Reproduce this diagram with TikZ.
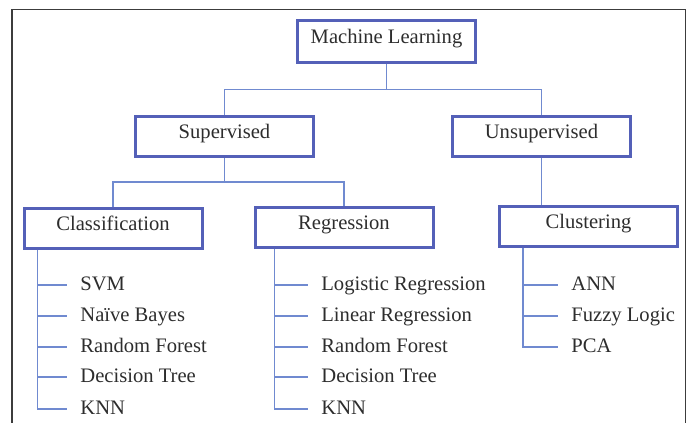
\documentclass[tikz,border=0pt]{standalone}
\usepackage{fontspec}
\setmainfont{Liberation Serif}
\definecolor{boxblue}{RGB}{84,96,184}
\definecolor{linkblue}{RGB}{112,138,208}
\definecolor{inkgray}{RGB}{45,45,45}
\definecolor{framegray}{RGB}{60,60,60}

\begin{document}
\begin{tikzpicture}[x=0.5pt,y=-0.5pt,
  every node/.style={font=\fontsize{10.3}{12}\selectfont,text=inkgray},
  box/.style={draw=boxblue,line width=1.5pt,minimum width=89pt,minimum height=20pt,
    inner sep=0pt,text height=7pt,text depth=5pt},
  item/.style={anchor=west,inner sep=0pt,text height=7pt,text depth=2pt},
  link/.style={draw=linkblue,line width=0.8pt},
  tick/.style={link,shorten >=6.5pt}]
  \useasboundingbox (0,0) rectangle (691,423);
  % outer frame, bottom edge runs off the page
  \draw[framegray,line width=0.9pt] (11.7,423) -- (11.7,9.5) -- (685.5,9.5) -- (685.5,423);

  % boxes
  \node[box,minimum height=21pt] (ml) at (386.5,41) {Machine Learning};
  \node[box] (sup) at (224.5,136.5) {Supervised};
  \node[box] (uns) at (541.5,136) {Unsupervised};
  \node[box] (cls) at (113,228) {Classification};
  \node[box] (reg) at (344,227) {Regression};
  \node[box] (clu) at (588.5,226) {Clustering};

  % tree links
  \draw[link] (ml.south) -- ++(0,26) -| (sup.north);
  \draw[link] (ml.south) ++(0,26) -| (uns.north);
  \draw[link] (sup.south) -- ++(0,24) -| (cls.north);
  \draw[link] (sup.south) ++(0,24) -| (reg.north);
  \draw[link] (uns.south) -- (uns.south |- clu.north);

  % classification methods
  \node[item] (c1) at (80,285) {SVM};
  \node[item] (c2) at (80,316) {Naïve Bayes};
  \node[item] (c3) at (80,347) {Random Forest};
  \node[item] (c4) at (80,377) {Decision Tree};
  \node[item] (c5) at (80,409) {KNN};
  \coordinate (clsx) at ([xshift=7.5pt]cls.south west);
  \draw[tick] (clsx) |- (c5.west);
  \foreach \i in {1,...,4} \draw[tick] (clsx |- c\i.west) -- (c\i.west);

  % regression methods
  \node[item] (r1) at (321,285) {Logistic Regression};
  \node[item] (r2) at (321,316) {Linear Regression};
  \node[item] (r3) at (321,347) {Random Forest};
  \node[item] (r4) at (321,377) {Decision Tree};
  \node[item] (r5) at (321,409) {KNN};
  \coordinate (regx) at ([xshift=10.5pt]reg.south west);
  \draw[tick] (regx) |- (r5.west);
  \foreach \i in {1,...,4} \draw[tick] (regx |- r\i.west) -- (r\i.west);

  % clustering methods
  \node[item] (u1) at (571,285) {ANN};
  \node[item] (u2) at (571,316) {Fuzzy Logic};
  \node[item] (u3) at (571,347) {PCA};
  \coordinate (clux) at ([xshift=12.5pt]clu.south west);
  \draw[tick] (clux) |- (u3.west);
  \foreach \i in {1,2} \draw[tick] (clux |- u\i.west) -- (u\i.west);
\end{tikzpicture}
\end{document}
